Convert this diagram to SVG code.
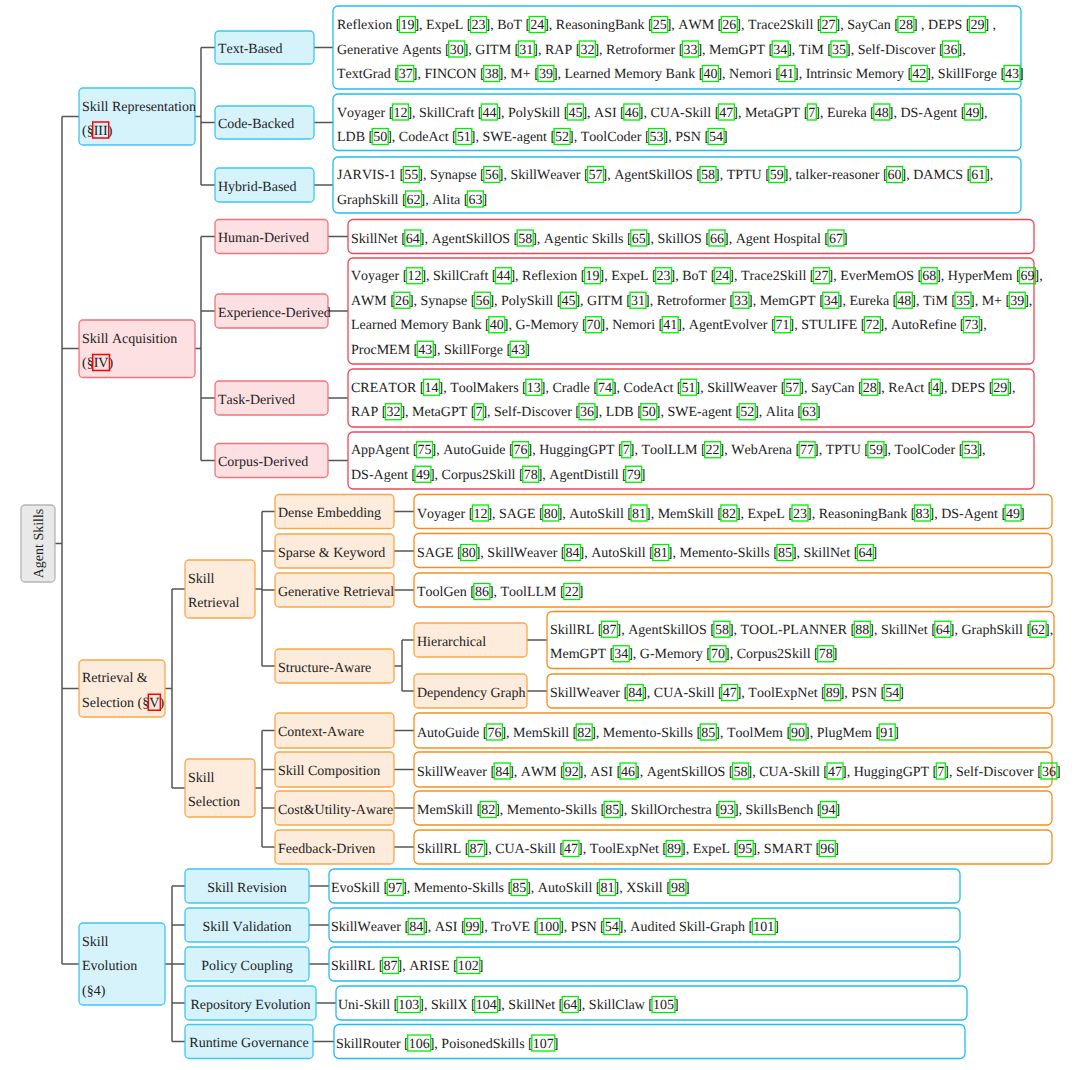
<svg xmlns="http://www.w3.org/2000/svg" width="1080" height="1070" viewBox="0 0 1080 1070">
<style>
.t{font-family:"Liberation Serif","Times New Roman",serif;font-size:14px;fill:#222;font-kerning:none;text-rendering:geometricPrecision}
.m{text-anchor:middle}
.c{fill:none;stroke:#00ee00;stroke-width:1.3}
.s{fill:none;stroke:#ff0000;stroke-width:1.5}
.root{fill:#e9e9e9;stroke:#b5b5b5;stroke-width:1.3}
.bn{fill:#d6f3fc;stroke:#3cc8f4;stroke-width:1.3}
.bl{fill:#fff;stroke:#22bdf0;stroke-width:1.3}
.rn{fill:#fde0e2;stroke:#f2727e;stroke-width:1.3}
.rl{fill:#fff;stroke:#ef4657;stroke-width:1.3}
.on{fill:#fdebdb;stroke:#f9a849;stroke-width:1.3}
.ol{fill:#fff;stroke:#f98d1c;stroke-width:1.3}
#connectors path{fill:none;stroke:#555;stroke-width:1.5}
</style>

<g id="connectors">
<path d="M55 543.5H62M62 116.5V964M62 116.5H79M62 348.5H79M62 688.5H79M62 964H79"/>
<path d="M195 116.5H201M201 47.5V185M201 47.5H215M201 122.5H215M201 185H215M314 47.5H333M314 122.5H333M314 185H333"/>
<path d="M195 348.5H201M201 236.5V460.5M201 236.5H215M201 311H215M201 398H215M201 460.5H215M328 236.5H348M328 311H348M328 398H348M328 460.5H348"/>
<path d="M165 688.5H172M172 589V788M172 589H185M172 788H185"/>
<path d="M255 589H262M262 511.5V666M262 511.5H275M262 551H275M262 590H275M262 666H275M394 511.5H414M394 551H414M394 590H414"/>
<path d="M394 666H402M402 640V691M402 640H414M402 691H414M527 640H547M527 691H547"/>
<path d="M255 788H262M262 730.5V847M262 730.5H275M262 769.5H275M262 808H275M262 847H275M394 730.5H414M394 769.5H414M394 808H414M394 847H414"/>
<path d="M165 964H172M172 886V1041.5M172 886H185M172 925H185M172 964H185M172 1003H185M172 1041.5H185M309 886H329M309 925H329M309 964H329M316 1003H336M313 1041.5H334"/>
</g>

<g id="node-agent-skills">
<rect class="root" x="21" y="505" width="34" height="77" rx="4"/>
<text class="t m" x="38" y="548" transform="rotate(-90 38 543.5)">Agent Skills</text>
</g>

<g id="node-skill-representation">
<rect class="bn" x="79" y="88" width="116" height="57" rx="4"/>
<text class="t" x="82" y="110.5">Skill Representation</text>
<text class="t" x="82" y="134.75">(§<tspan x="93.7">III</tspan>)</text>
<rect class="s" x="92.7" y="122" width="16" height="16"/>
</g>
<g id="node-text-based"><rect class="bn" x="215" y="31" width="99" height="33" rx="4"/><text class="t" x="218" y="53">Text-Based</text></g>
<g id="node-code-backed"><rect class="bn" x="215" y="106" width="99" height="33" rx="4"/><text class="t" x="218" y="128">Code-Backed</text></g>
<g id="node-hybrid-based"><rect class="bn" x="215" y="168" width="99" height="34" rx="4"/><text class="t" x="218" y="190.5">Hybrid-Based</text></g>

<g id="leaf-text-based">
<rect class="bl" x="333" y="6" width="688" height="83" rx="5"/>
<text class="t" y="29"><tspan x="337">Reflexion [</tspan><tspan x="400.4">19</tspan>], ExpeL [<tspan x="471.5">23</tspan>], BoT [<tspan x="530.2">24</tspan>], ReasoningBank [<tspan x="652.7">25</tspan>], AWM [<tspan x="722.3">26</tspan>], Trace2Skill [<tspan x="821.5">27</tspan>], SayCan [<tspan x="898.9">28</tspan>] , DEPS [<tspan x="970.4">29</tspan>] ,</text>
<text class="t" y="53.5"><tspan x="337">Generative Agents [</tspan><tspan x="449.7">30</tspan>], GITM [<tspan x="519.3">31</tspan>], RAP [<tspan x="580.4">32</tspan>], Retroformer [<tspan x="683.4">33</tspan>], MemGPT [<tspan x="773.2">34</tspan>], TiM [<tspan x="832">35</tspan>], Self-Discover [<tspan x="943.5">36</tspan>],</text>
<text class="t" y="78"><tspan x="337">TextGrad [</tspan><tspan x="398.8">37</tspan>], FINCON [<tspan x="484.7">38</tspan>], M+ [<tspan x="538.9">39</tspan>], Learned Memory Bank [<tspan x="703.4">40</tspan>], Nemori [<tspan x="780">41</tspan>], Intrinsic Memory [<tspan x="912.2">42</tspan>], SkillForge [<tspan x="1005.1">43</tspan>]</text>
<g>
<rect class="c" x="399.4" y="16.5" width="16" height="16"/><rect class="c" x="470.5" y="16.5" width="16" height="16"/><rect class="c" x="529.2" y="16.5" width="16" height="16"/><rect class="c" x="651.7" y="16.5" width="16" height="16"/><rect class="c" x="721.3" y="16.5" width="16" height="16"/><rect class="c" x="820.5" y="16.5" width="16" height="16"/><rect class="c" x="897.9" y="16.5" width="16" height="16"/><rect class="c" x="969.4" y="16.5" width="16" height="16"/>
<rect class="c" x="448.7" y="41" width="16" height="16"/><rect class="c" x="518.3" y="41" width="16" height="16"/><rect class="c" x="579.4" y="41" width="16" height="16"/><rect class="c" x="682.4" y="41" width="16" height="16"/><rect class="c" x="772.2" y="41" width="16" height="16"/><rect class="c" x="831" y="41" width="16" height="16"/><rect class="c" x="942.5" y="41" width="16" height="16"/>
<rect class="c" x="397.8" y="65.5" width="16" height="16"/><rect class="c" x="483.7" y="65.5" width="16" height="16"/><rect class="c" x="537.9" y="65.5" width="16" height="16"/><rect class="c" x="702.4" y="65.5" width="16" height="16"/><rect class="c" x="779" y="65.5" width="16" height="16"/><rect class="c" x="911.2" y="65.5" width="16" height="16"/><rect class="c" x="1004.1" y="65.5" width="16" height="16"/>
</g>
</g>

<g id="leaf-code-backed">
<rect class="bl" x="333" y="94" width="688" height="56.5" rx="5"/>
<text class="t" y="116.5"><tspan x="337">Voyager [</tspan><tspan x="393.4">12</tspan>], SkillCraft [<tspan x="482.4">44</tspan>], PolySkill [<tspan x="568.4">45</tspan>], ASI [<tspan x="624.8">46</tspan>], CUA-Skill [<tspan x="719.3">47</tspan>], MetaGPT [<tspan x="808.3">7</tspan>], Eureka [<tspan x="874.8">48</tspan>], DS-Agent [<tspan x="965.4">49</tspan>],</text>
<text class="t" y="141"><tspan x="337">LDB [</tspan><tspan x="373.2">50</tspan>], CodeAct [<tspan x="456.8">51</tspan>], SWE-agent [<tspan x="555.1">52</tspan>], ToolCoder [<tspan x="649.6">53</tspan>], PSN [<tspan x="709.1">54</tspan>]</text>
<g>
<rect class="c" x="392.4" y="104" width="16" height="16"/><rect class="c" x="481.4" y="104" width="16" height="16"/><rect class="c" x="567.4" y="104" width="16" height="16"/><rect class="c" x="623.8" y="104" width="16" height="16"/><rect class="c" x="718.3" y="104" width="16" height="16"/><rect class="c" x="807.3" y="104" width="9" height="16"/><rect class="c" x="873.8" y="104" width="16" height="16"/><rect class="c" x="964.4" y="104" width="16" height="16"/>
<rect class="c" x="372.2" y="128.5" width="16" height="16"/><rect class="c" x="455.8" y="128.5" width="16" height="16"/><rect class="c" x="554.1" y="128.5" width="16" height="16"/><rect class="c" x="648.6" y="128.5" width="16" height="16"/><rect class="c" x="708.1" y="128.5" width="16" height="16"/>
</g>
</g>

<g id="leaf-hybrid-based">
<rect class="bl" x="333" y="157" width="688" height="56" rx="5"/>
<text class="t" y="179"><tspan x="337">JARVIS-1 [</tspan><tspan x="404.3">55</tspan>], Synapse [<tspan x="484.8">56</tspan>], SkillWeaver [<tspan x="588.6">57</tspan>], AgentSkillOS [<tspan x="701">58</tspan>], TPTU [<tspan x="769.8">59</tspan>], talker-reasoner [<tspan x="887.6">60</tspan>], DAMCS [<tspan x="971.2">61</tspan>],</text>
<text class="t" y="203.5"><tspan x="337">GraphSkill [</tspan><tspan x="406.6">62</tspan>], Alita [<tspan x="468.4">63</tspan>]</text>
<g>
<rect class="c" x="403.3" y="166.5" width="16" height="16"/><rect class="c" x="483.8" y="166.5" width="16" height="16"/><rect class="c" x="587.6" y="166.5" width="16" height="16"/><rect class="c" x="700" y="166.5" width="16" height="16"/><rect class="c" x="768.8" y="166.5" width="16" height="16"/><rect class="c" x="886.6" y="166.5" width="16" height="16"/><rect class="c" x="970.2" y="166.5" width="16" height="16"/>
<rect class="c" x="405.6" y="191" width="16" height="16"/><rect class="c" x="467.4" y="191" width="16" height="16"/>
</g>
</g>

<g id="node-skill-acquisition">
<rect class="rn" x="79" y="320" width="116" height="57.5" rx="4"/>
<text class="t" x="82" y="342.5">Skill Acquisition</text>
<text class="t" x="82" y="367">(§<tspan x="93.7">IV</tspan>)</text>
<rect class="s" x="92.7" y="354.5" width="16.8" height="16"/>
</g>
<g id="node-human-derived"><rect class="rn" x="215" y="219.5" width="113" height="34" rx="4"/><text class="t" x="218" y="242">Human-Derived</text></g>
<g id="node-experience-derived"><rect class="rn" x="215" y="294" width="113" height="34" rx="4"/><text class="t" x="218" y="316.5">Experience-Derived</text></g>
<g id="node-task-derived"><rect class="rn" x="215" y="381" width="113" height="34" rx="4"/><text class="t" x="218" y="403.5">Task-Derived</text></g>
<g id="node-corpus-derived"><rect class="rn" x="215" y="443.5" width="113" height="34" rx="4"/><text class="t" x="218" y="466">Corpus-Derived</text></g>

<g id="leaf-human-derived">
<rect class="rl" x="348" y="219.5" width="686" height="34" rx="5"/>
<text class="t" y="242.5"><tspan x="351">SkillNet [</tspan><tspan x="405.8">64</tspan>], AgentSkillOS [<tspan x="518.2">58</tspan>], Agentic Skills [<tspan x="631.8">65</tspan>], SkillOS [<tspan x="710">66</tspan>], Agent Hospital [<tspan x="829">67</tspan>]</text>
<g><rect class="c" x="404.8" y="230" width="16" height="16"/><rect class="c" x="517.2" y="230" width="16" height="16"/><rect class="c" x="630.8" y="230" width="16" height="16"/><rect class="c" x="709" y="230" width="16" height="16"/><rect class="c" x="828" y="230" width="16" height="16"/></g>
</g>

<g id="leaf-experience-derived">
<rect class="rl" x="348" y="258" width="686" height="106" rx="5"/>
<text class="t" y="280.25"><tspan x="351">Voyager [</tspan><tspan x="407.4">12</tspan>], SkillCraft [<tspan x="496.4">44</tspan>], Reflexion [<tspan x="585.5">19</tspan>], ExpeL [<tspan x="656.6">23</tspan>], BoT [<tspan x="715.3">24</tspan>], Trace2Skill [<tspan x="814.5">27</tspan>], EverMemOS [<tspan x="922.2">68</tspan>], HyperMem [<tspan x="1020.5">69</tspan>],</text>
<text class="t" y="304.75"><tspan x="351">AWM [</tspan><tspan x="394.9">26</tspan>], Synapse [<tspan x="475.4">56</tspan>], PolySkill [<tspan x="561.4">45</tspan>], GITM [<tspan x="631">31</tspan>], Retroformer [<tspan x="734">33</tspan>], MemGPT [<tspan x="823.8">34</tspan>], Eureka [<tspan x="897.3">48</tspan>], TiM [<tspan x="956">35</tspan>], M+ [<tspan x="1010.2">39</tspan>],</text>
<text class="t" y="329.25"><tspan x="351">Learned Memory Bank [</tspan><tspan x="489.8">40</tspan>], G-Memory [<tspan x="586.6">70</tspan>], Nemori [<tspan x="663.2">41</tspan>], AgentEvolver [<tspan x="775.6">71</tspan>], STULIFE [<tspan x="865.4">72</tspan>], AutoRefine [<tspan x="964.5">73</tspan>],</text>
<text class="t" y="353.75"><tspan x="351">ProcMEM [</tspan><tspan x="418.3">43</tspan>], SkillForge [<tspan x="511.2">43</tspan>]</text>
<g>
<rect class="c" x="406.4" y="267.75" width="16" height="16"/><rect class="c" x="495.4" y="267.75" width="16" height="16"/><rect class="c" x="584.5" y="267.75" width="16" height="16"/><rect class="c" x="655.6" y="267.75" width="16" height="16"/><rect class="c" x="714.3" y="267.75" width="16" height="16"/><rect class="c" x="813.5" y="267.75" width="16" height="16"/><rect class="c" x="921.2" y="267.75" width="16" height="16"/><rect class="c" x="1019.5" y="267.75" width="16" height="16"/>
<rect class="c" x="393.9" y="292.25" width="16" height="16"/><rect class="c" x="474.4" y="292.25" width="16" height="16"/><rect class="c" x="560.4" y="292.25" width="16" height="16"/><rect class="c" x="630" y="292.25" width="16" height="16"/><rect class="c" x="733" y="292.25" width="16" height="16"/><rect class="c" x="822.8" y="292.25" width="16" height="16"/><rect class="c" x="896.3" y="292.25" width="16" height="16"/><rect class="c" x="955" y="292.25" width="16" height="16"/><rect class="c" x="1009.2" y="292.25" width="16" height="16"/>
<rect class="c" x="488.8" y="316.75" width="16" height="16"/><rect class="c" x="585.6" y="316.75" width="16" height="16"/><rect class="c" x="662.2" y="316.75" width="16" height="16"/><rect class="c" x="774.6" y="316.75" width="16" height="16"/><rect class="c" x="864.4" y="316.75" width="16" height="16"/><rect class="c" x="963.5" y="316.75" width="16" height="16"/>
<rect class="c" x="417.3" y="341.25" width="16" height="16"/><rect class="c" x="510.2" y="341.25" width="16" height="16"/>
</g>
</g>

<g id="leaf-task-derived">
<rect class="rl" x="348" y="369" width="686" height="58" rx="5"/>
<text class="t" y="391.75"><tspan x="351">CREATOR [</tspan><tspan x="424.5">14</tspan>], ToolMakers [<tspan x="526.8">13</tspan>], Cradle [<tspan x="597.9">74</tspan>], CodeAct [<tspan x="681.5">51</tspan>], SkillWeaver [<tspan x="785.3">57</tspan>], SayCan [<tspan x="862.7">28</tspan>], ReAct [<tspan x="932.3">4</tspan>], DEPS [<tspan x="993.3">29</tspan>],</text>
<text class="t" y="416.25"><tspan x="351">RAP [</tspan><tspan x="386.4">32</tspan>], MetaGPT [<tspan x="475.4">7</tspan>], Self-Discover [<tspan x="580">36</tspan>], LDB [<tspan x="641.8">50</tspan>], SWE-agent [<tspan x="740.2">52</tspan>], Alita [<tspan x="802">63</tspan>]</text>
<g>
<rect class="c" x="423.5" y="379.25" width="16" height="16"/><rect class="c" x="525.8" y="379.25" width="16" height="16"/><rect class="c" x="596.9" y="379.25" width="16" height="16"/><rect class="c" x="680.5" y="379.25" width="16" height="16"/><rect class="c" x="784.3" y="379.25" width="16" height="16"/><rect class="c" x="861.7" y="379.25" width="16" height="16"/><rect class="c" x="931.3" y="379.25" width="9" height="16"/><rect class="c" x="992.3" y="379.25" width="16" height="16"/>
<rect class="c" x="385.4" y="403.75" width="16" height="16"/><rect class="c" x="474.4" y="403.75" width="9" height="16"/><rect class="c" x="579" y="403.75" width="16" height="16"/><rect class="c" x="640.8" y="403.75" width="16" height="16"/><rect class="c" x="739.2" y="403.75" width="16" height="16"/><rect class="c" x="801" y="403.75" width="16" height="16"/>
</g>
</g>

<g id="leaf-corpus-derived">
<rect class="rl" x="348" y="432" width="686" height="57" rx="5"/>
<text class="t" y="454.25"><tspan x="351">AppAgent [</tspan><tspan x="417.5">75</tspan>], AutoGuide [<tspan x="513.5">76</tspan>], HuggingGPT [<tspan x="622.8">7</tspan>], ToolLLM [<tspan x="705.6">22</tspan>], WebArena [<tspan x="800.1">77</tspan>], TPTU [<tspan x="868.9">59</tspan>], ToolCoder [<tspan x="963.4">53</tspan>],</text>
<text class="t" y="478.75"><tspan x="351">DS-Agent [</tspan><tspan x="415.9">49</tspan>], Corpus2Skill [<tspan x="523.7">78</tspan>], AgentDistill [<tspan x="626.7">79</tspan>]</text>
<g>
<rect class="c" x="416.5" y="441.75" width="16" height="16"/><rect class="c" x="512.5" y="441.75" width="16" height="16"/><rect class="c" x="621.8" y="441.75" width="9" height="16"/><rect class="c" x="704.6" y="441.75" width="16" height="16"/><rect class="c" x="799.1" y="441.75" width="16" height="16"/><rect class="c" x="867.9" y="441.75" width="16" height="16"/><rect class="c" x="962.4" y="441.75" width="16" height="16"/>
<rect class="c" x="414.9" y="466.25" width="16" height="16"/><rect class="c" x="522.7" y="466.25" width="16" height="16"/><rect class="c" x="625.7" y="466.25" width="16" height="16"/>
</g>
</g>

<g id="node-retrieval-selection">
<rect class="on" x="79" y="660" width="86" height="57" rx="4"/>
<text class="t" x="82" y="682.25">Retrieval &amp;</text>
<text class="t" x="82" y="706.75">Selection (§<tspan x="149.3">V</tspan>)</text>
<rect class="s" x="148.3" y="694.25" width="12" height="16"/>
</g>
<g id="node-skill-retrieval"><rect class="on" x="185" y="560" width="70" height="58" rx="4"/><text class="t" x="188" y="582.75">Skill</text><text class="t" x="188" y="607.25">Retrieval</text></g>
<g id="node-skill-selection"><rect class="on" x="185" y="759" width="70" height="58" rx="4"/><text class="t" x="188" y="781.75">Skill</text><text class="t" x="188" y="806.25">Selection</text></g>
<g id="node-dense-embedding"><rect class="on" x="275" y="494.5" width="119" height="34" rx="4"/><text class="t" x="278" y="517">Dense Embedding</text></g>
<g id="node-sparse-keyword"><rect class="on" x="275" y="534" width="119" height="34" rx="4"/><text class="t" x="278" y="556.5">Sparse &amp; Keyword</text></g>
<g id="node-generative-retrieval"><rect class="on" x="275" y="573" width="119" height="34" rx="4"/><text class="t" x="278" y="595.5">Generative Retrieval</text></g>
<g id="node-structure-aware"><rect class="on" x="275" y="649" width="119" height="34" rx="4"/><text class="t" x="278" y="671.5">Structure-Aware</text></g>
<g id="node-hierarchical"><rect class="on" x="414" y="623" width="113" height="34" rx="4"/><text class="t" x="417" y="645.5">Hierarchical</text></g>
<g id="node-dependency-graph"><rect class="on" x="414" y="674" width="113" height="34" rx="4"/><text class="t" x="417" y="696.5">Dependency Graph</text></g>
<g id="node-context-aware"><rect class="on" x="275" y="713" width="119" height="35" rx="4"/><text class="t" x="278" y="736">Context-Aware</text></g>
<g id="node-skill-composition"><rect class="on" x="275" y="752" width="119" height="35" rx="4"/><text class="t" x="278" y="775">Skill Composition</text></g>
<g id="node-cost-utility"><rect class="on" x="275" y="791" width="119" height="34" rx="4"/><text class="t" x="278" y="813.5">Cost&amp;Utility-Aware</text></g>
<g id="node-feedback-driven"><rect class="on" x="275" y="830" width="119" height="34" rx="4"/><text class="t" x="278" y="852.5">Feedback-Driven</text></g>

<g id="leaf-dense-embedding">
<rect class="ol" x="414" y="494.5" width="638" height="34" rx="5"/>
<text class="t" y="517.5"><tspan x="417">Voyager [</tspan><tspan x="473.4">12</tspan>], SAGE [<tspan x="543.7">80</tspan>], AutoSkill [<tspan x="632">81</tspan>], MemSkill [<tspan x="721.9">82</tspan>], ExpeL [<tspan x="793">23</tspan>], ReasoningBank [<tspan x="915.5">83</tspan>], DS-Agent [<tspan x="1006.1">49</tspan>]</text>
<g><rect class="c" x="472.4" y="505" width="16" height="16"/><rect class="c" x="542.7" y="505" width="16" height="16"/><rect class="c" x="631" y="505" width="16" height="16"/><rect class="c" x="720.9" y="505" width="16" height="16"/><rect class="c" x="792" y="505" width="16" height="16"/><rect class="c" x="914.5" y="505" width="16" height="16"/><rect class="c" x="1005.1" y="505" width="16" height="16"/></g>
</g>

<g id="leaf-sparse-keyword">
<rect class="ol" x="414" y="533.5" width="638" height="34" rx="5"/>
<text class="t" y="557"><tspan x="417">SAGE [</tspan><tspan x="461.7">80</tspan>], SkillWeaver [<tspan x="565.5">84</tspan>], AutoSkill [<tspan x="653.8">81</tspan>], Memento-Skills [<tspan x="777.9">85</tspan>], SkillNet [<tspan x="858.4">64</tspan>]</text>
<g><rect class="c" x="460.7" y="544.5" width="16" height="16"/><rect class="c" x="564.5" y="544.5" width="16" height="16"/><rect class="c" x="652.8" y="544.5" width="16" height="16"/><rect class="c" x="776.9" y="544.5" width="16" height="16"/><rect class="c" x="857.4" y="544.5" width="16" height="16"/></g>
</g>

<g id="leaf-generative-retrieval">
<rect class="ol" x="414" y="573" width="638" height="34" rx="5"/>
<text class="t" y="596"><tspan x="417">ToolGen [</tspan><tspan x="474.9">86</tspan>], ToolLLM [<tspan x="564.8">22</tspan>]</text>
<g><rect class="c" x="473.9" y="583.5" width="16" height="16"/><rect class="c" x="563.8" y="583.5" width="16" height="16"/></g>
</g>

<g id="leaf-hierarchical">
<rect class="ol" x="547" y="611.5" width="507" height="57" rx="5"/>
<text class="t" y="633.75"><tspan x="550">SkillRL [</tspan><tspan x="602.5">87</tspan>], AgentSkillOS [<tspan x="714.9">58</tspan>], TOOL-PLANNER [<tspan x="855.3">88</tspan>], SkillNet [<tspan x="935.8">64</tspan>], GraphSkill [<tspan x="1031.1">62</tspan>],</text>
<text class="t" y="658.25"><tspan x="550">MemGPT [</tspan><tspan x="614.2">34</tspan>], G-Memory [<tspan x="711">70</tspan>], Corpus2Skill [<tspan x="818.7">78</tspan>]</text>
<g>
<rect class="c" x="601.5" y="621.25" width="16" height="16"/><rect class="c" x="713.9" y="621.25" width="16" height="16"/><rect class="c" x="854.3" y="621.25" width="16" height="16"/><rect class="c" x="934.8" y="621.25" width="16" height="16"/><rect class="c" x="1030.1" y="621.25" width="16" height="16"/>
<rect class="c" x="613.2" y="645.75" width="16" height="16"/><rect class="c" x="710" y="645.75" width="16" height="16"/><rect class="c" x="817.7" y="645.75" width="16" height="16"/>
</g>
</g>

<g id="leaf-dependency-graph">
<rect class="ol" x="547" y="674" width="507" height="34" rx="5"/>
<text class="t" y="697"><tspan x="550">SkillWeaver [</tspan><tspan x="628.2">84</tspan>], CUA-Skill [<tspan x="722.7">47</tspan>], ToolExpNet [<tspan x="825.7">89</tspan>], PSN [<tspan x="885.2">54</tspan>]</text>
<g><rect class="c" x="627.2" y="684.5" width="16" height="16"/><rect class="c" x="721.7" y="684.5" width="16" height="16"/><rect class="c" x="824.7" y="684.5" width="16" height="16"/><rect class="c" x="884.2" y="684.5" width="16" height="16"/></g>
</g>

<g id="leaf-context-aware">
<rect class="ol" x="414" y="713" width="638" height="35" rx="5"/>
<text class="t" y="736.5"><tspan x="417">AutoGuide [</tspan><tspan x="487.4">76</tspan>], MemSkill [<tspan x="577.2">82</tspan>], Memento-Skills [<tspan x="701.3">85</tspan>], ToolMem [<tspan x="791.1">90</tspan>], PlugMem [<tspan x="880.2">91</tspan>]</text>
<g><rect class="c" x="486.4" y="724" width="16" height="16"/><rect class="c" x="576.2" y="724" width="16" height="16"/><rect class="c" x="700.3" y="724" width="16" height="16"/><rect class="c" x="790.1" y="724" width="16" height="16"/><rect class="c" x="879.2" y="724" width="16" height="16"/></g>
</g>

<g id="leaf-skill-composition">
<rect class="ol" x="414" y="752" width="638" height="35" rx="5"/>
<text class="t" y="775.5"><tspan x="417">SkillWeaver [</tspan><tspan x="495.2">84</tspan>], AWM [<tspan x="564.7">92</tspan>], ASI [<tspan x="621.1">46</tspan>], AgentSkillOS [<tspan x="733.5">58</tspan>], CUA-Skill [<tspan x="828">47</tspan>], HuggingGPT [<tspan x="937.3">7</tspan>], Self-Discover [<tspan x="1041.9">36</tspan>]</text>
<g><rect class="c" x="494.2" y="763" width="16" height="16"/><rect class="c" x="563.7" y="763" width="16" height="16"/><rect class="c" x="620.1" y="763" width="16" height="16"/><rect class="c" x="732.5" y="763" width="16" height="16"/><rect class="c" x="827" y="763" width="16" height="16"/><rect class="c" x="936.3" y="763" width="9" height="16"/><rect class="c" x="1040.9" y="763" width="16" height="16"/></g>
</g>

<g id="leaf-cost-utility">
<rect class="ol" x="414" y="791" width="638" height="34" rx="5"/>
<text class="t" y="814"><tspan x="417">MemSkill [</tspan><tspan x="481.2">82</tspan>], Memento-Skills [<tspan x="605.2">85</tspan>], SkillOrchestra [<tspan x="719.9">93</tspan>], SkillsBench [<tspan x="821.4">94</tspan>]</text>
<g><rect class="c" x="480.2" y="801.5" width="16" height="16"/><rect class="c" x="604.2" y="801.5" width="16" height="16"/><rect class="c" x="718.9" y="801.5" width="16" height="16"/><rect class="c" x="820.4" y="801.5" width="16" height="16"/></g>
</g>

<g id="leaf-feedback-driven">
<rect class="ol" x="414" y="830" width="638" height="34" rx="5"/>
<text class="t" y="853"><tspan x="417">SkillRL [</tspan><tspan x="469.5">87</tspan>], CUA-Skill [<tspan x="564">47</tspan>], ToolExpNet [<tspan x="667.1">89</tspan>], ExpeL [<tspan x="738.2">95</tspan>], SMART [<tspan x="820.3">96</tspan>]</text>
<g><rect class="c" x="468.5" y="840.5" width="16" height="16"/><rect class="c" x="563" y="840.5" width="16" height="16"/><rect class="c" x="666.1" y="840.5" width="16" height="16"/><rect class="c" x="737.2" y="840.5" width="16" height="16"/><rect class="c" x="819.3" y="840.5" width="16" height="16"/></g>
</g>

<g id="node-skill-evolution">
<rect class="bn" x="79" y="923" width="86" height="82" rx="4"/>
<text class="t" x="82" y="945.5">Skill</text>
<text class="t" x="82" y="970">Evolution</text>
<text class="t" x="82" y="994.5">(§4)</text>
</g>
<g id="node-skill-revision"><rect class="bn" x="185" y="869" width="124" height="34" rx="4"/><text class="t m" x="247" y="891.5">Skill Revision</text></g>
<g id="node-skill-validation"><rect class="bn" x="185" y="908" width="124" height="34" rx="4"/><text class="t m" x="247" y="930.5">Skill Validation</text></g>
<g id="node-policy-coupling"><rect class="bn" x="185" y="947" width="124" height="34" rx="4"/><text class="t m" x="247" y="969.5">Policy Coupling</text></g>
<g id="node-repository-evolution"><rect class="bn" x="185" y="986" width="131" height="34" rx="4"/><text class="t m" x="250.5" y="1008.5">Repository Evolution</text></g>
<g id="node-runtime-governance"><rect class="bn" x="185" y="1024.5" width="128" height="34" rx="4"/><text class="t m" x="249" y="1047">Runtime Governance</text></g>

<g id="leaf-skill-revision">
<rect class="bl" x="329" y="869" width="631" height="34" rx="5"/>
<text class="t" y="892"><tspan x="331">EvoSkill [</tspan><tspan x="388.2">97</tspan>], Memento-Skills [<tspan x="512.2">85</tspan>], AutoSkill [<tspan x="600.5">81</tspan>], XSkill [<tspan x="670.9">98</tspan>]</text>
<g><rect class="c" x="387.2" y="879.5" width="16" height="16"/><rect class="c" x="511.2" y="879.5" width="16" height="16"/><rect class="c" x="599.5" y="879.5" width="16" height="16"/><rect class="c" x="669.9" y="879.5" width="16" height="16"/></g>
</g>

<g id="leaf-skill-validation">
<rect class="bl" x="329" y="908" width="631" height="34" rx="5"/>
<text class="t" y="931"><tspan x="331">SkillWeaver [</tspan><tspan x="409.2">84</tspan>], ASI [<tspan x="465.5">99</tspan>], TroVE [<tspan x="538.2">100</tspan>], PSN [<tspan x="604.7">54</tspan>], Audited Skill-Graph [<tspan x="753.3">101</tspan>]</text>
<g><rect class="c" x="408.2" y="918.5" width="16" height="16"/><rect class="c" x="464.5" y="918.5" width="16" height="16"/><rect class="c" x="537.2" y="918.5" width="23" height="16"/><rect class="c" x="603.7" y="918.5" width="16" height="16"/><rect class="c" x="752.3" y="918.5" width="23" height="16"/></g>
</g>

<g id="leaf-policy-coupling">
<rect class="bl" x="329" y="947" width="631" height="34" rx="5"/>
<text class="t" y="970"><tspan x="331">SkillRL [</tspan><tspan x="383.5">87</tspan>], ARISE [<tspan x="457.8">102</tspan>]</text>
<g><rect class="c" x="382.5" y="957.5" width="16" height="16"/><rect class="c" x="456.8" y="957.5" width="23" height="16"/></g>
</g>

<g id="leaf-repository-evolution">
<rect class="bl" x="336" y="986" width="631" height="34" rx="5"/>
<text class="t" y="1009"><tspan x="338">Uni-Skill [</tspan><tspan x="398.3">103</tspan>], SkillX [<tspan x="475.7">104</tspan>], SkillNet [<tspan x="563.2">64</tspan>], SkillClaw [<tspan x="653">105</tspan>]</text>
<g><rect class="c" x="397.3" y="996.5" width="23" height="16"/><rect class="c" x="474.7" y="996.5" width="23" height="16"/><rect class="c" x="562.2" y="996.5" width="16" height="16"/><rect class="c" x="652" y="996.5" width="23" height="16"/></g>
</g>

<g id="leaf-runtime-governance">
<rect class="bl" x="334" y="1024.5" width="631" height="34" rx="5"/>
<text class="t" y="1047.5"><tspan x="336">SkillRouter [</tspan><tspan x="408.7">106</tspan>], PoisonedSkills [<tspan x="532.8">107</tspan>]</text>
<g><rect class="c" x="407.7" y="1035" width="23" height="16"/><rect class="c" x="531.8" y="1035" width="23" height="16"/></g>
</g>
</svg>
